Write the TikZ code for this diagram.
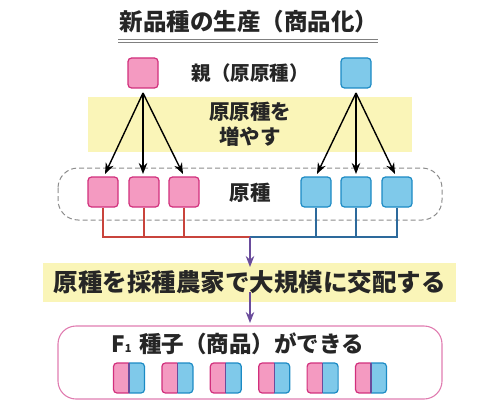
\documentclass[tikz,border=0pt]{standalone}
\usepackage{fontspec}
\setmainfont{Noto Sans CJK JP}
\usetikzlibrary{arrows.meta}
\definecolor{pinkfill}{HTML}{F49AC1}
\definecolor{pinkline}{HTML}{D12F7C}
\definecolor{bluefill}{HTML}{7FC9EA}
\definecolor{blueline}{HTML}{1B8AC4}
\definecolor{redcon}{HTML}{C9443C}
\definecolor{bluecon}{HTML}{2D6A9C}
\definecolor{purp}{HTML}{6A4C9C}
\definecolor{yel}{HTML}{FAF5B8}
\definecolor{outerpink}{HTML}{E07CB0}
\tikzset{
  pbox/.style={draw=pinkline, fill=pinkfill, line width=1.2pt, rounded corners=3.5pt, minimum width=30pt, minimum height=30pt, inner sep=0pt},
  bbox/.style={draw=blueline, fill=bluefill, line width=1.2pt, rounded corners=3.5pt, minimum width=30pt, minimum height=30pt, inner sep=0pt},
  txt/.style={font=\bfseries, inner sep=0pt, text=black!85},
  blackarr/.style={-{Stealth[length=11pt,width=8.5pt]}, line width=1.4pt, black},
  purarr/.style={-{Stealth[length=11pt,width=8.5pt]}, line width=1.3pt, purp},
  conr/.style={redcon, line width=1.3pt},
  conb/.style={bluecon, line width=1.3pt},
}
\begin{document}
\begin{tikzpicture}[x=1pt,y=-1pt]
\useasboundingbox (0,0) rectangle (500,417);
% title
\node[txt, font=\fontsize{23.5}{26}\selectfont\bfseries] (title) at (249,22) {新品種の生産（商品化）};
\draw[gray, line width=0.8pt] (118,39.5) -- (378,39.5);
\draw[gray, line width=0.8pt] (118,42.5) -- (378,42.5);
% parents
\node[pbox] (pp) at (143,73) {};
\node[bbox] (bp) at (356,73) {};
\node[txt, font=\fontsize{19.5}{22}\selectfont\bfseries] (oya) at (250,73) {親（原原種）};
% yellow box
\fill[yel] (88,97) rectangle (412,152);
\node[txt, font=\fontsize{20.5}{25}\selectfont\bfseries, align=center] (inc) at (250,124.5) {原原種を\\増やす};
% dashed group
\draw[gray!90, line width=1pt, dash pattern=on 5pt off 3pt, rounded corners=20pt] (58,168) rectangle (442,220);
\node[txt, font=\fontsize{20.5}{24}\selectfont\bfseries] (gen) at (250,193) {原種};
% children
\node[pbox] (c1) at (103,192) {};
\node[pbox] (c2) at (144,192) {};
\node[pbox] (c3) at (184,192) {};
\node[bbox] (c4) at (316,192) {};
\node[bbox] (c5) at (356,192) {};
\node[bbox] (c6) at (397,192) {};
% arrows parent -> children
\coordinate (ps) at (143,93);
\coordinate (bs) at (356,93);
\draw[blackarr] (ps) -- (105,174);
\draw[blackarr] (ps) -- (143,174);
\draw[blackarr] (ps) -- (183,174);
\draw[blackarr] (bs) -- (317,174);
\draw[blackarr] (bs) -- (356,174);
\draw[blackarr] (bs) -- (395,174);
% connectors
\coordinate (mid) at (250,237);
\draw[conr] (c1.south) -- (103,237) -- (mid);
\draw[conr] (c2.south) -- (144,237);
\draw[conr] (c3.south) -- (184,237);
\draw[conb] (c6.south) -- (397,237) -- (mid);
\draw[conb] (c5.south) -- (356,237);
\draw[conb] (c4.south) -- (316,237);
% second yellow box
\fill[yel] (43,263) rectangle (456,302);
\draw[purarr] (mid) -- (250,267);
\node[txt, font=\fontsize{24.5}{27}\selectfont\bfseries] (cross) at (249.5,282) {原種を採種農家で大規模に交配する};
\coordinate (c2top) at (250,292);
% outer pink box
\draw[outerpink, line width=1.1pt, rounded corners=18pt] (58,326) rectangle (442,399);
\draw[purarr] (c2top) -- (250,323);
\node[txt, font=\fontsize{22.5}{26}\selectfont\bfseries, anchor=west] (f1) at (111,344) {F{\fontsize{11}{12}\selectfont 1}\hspace{8pt}種子（商品）ができる};
% seeds
\foreach \i in {0,...,5} {
  \pgfmathsetmacro{\cx}{129+48.4*\i}
  \begin{scope}
    \clip[rounded corners=3.5pt] (\cx-15.5,363) rectangle (\cx+15.5,393);
    \fill[pinkfill] (\cx-15.5,363) rectangle (\cx,393);
    \fill[bluefill] (\cx,363) rectangle (\cx+15.5,393);
  \end{scope}
  \draw[pinkline, line width=1.2pt, rounded corners=3.5pt] (\cx,363) -- (\cx-15.5,363) -- (\cx-15.5,393) -- (\cx,393);
  \draw[blueline, line width=1.2pt, rounded corners=3.5pt] (\cx,363) -- (\cx+15.5,363) -- (\cx+15.5,393) -- (\cx,393);
  \draw[purp, line width=1.2pt] (\cx,363) -- (\cx,393);
}
\end{tikzpicture}
\end{document}
